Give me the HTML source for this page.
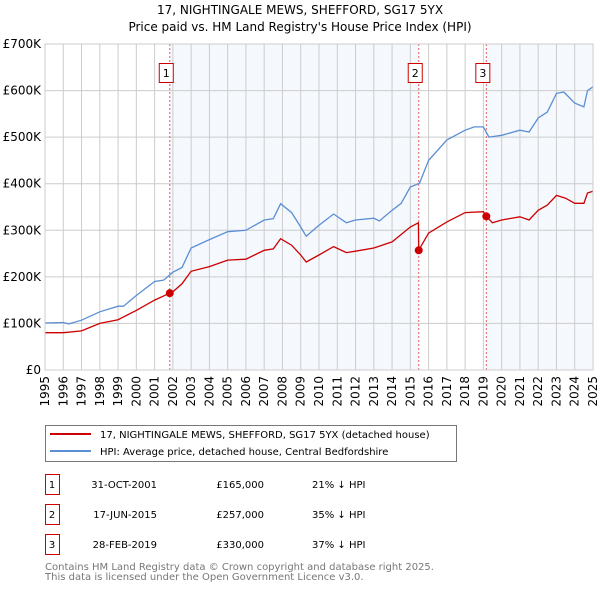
<!DOCTYPE html>
<html><head><meta charset="utf-8"><style>
body{margin:0;background:#fff;font-family:"DejaVu Sans","Liberation Sans",sans-serif;}
svg text{font-family:"DejaVu Sans","Liberation Sans",sans-serif;}
</style></head><body>
<svg id="c" width="600" height="590" viewBox="0 0 600 590" xmlns="http://www.w3.org/2000/svg">
<text x="300" y="14" text-anchor="middle" font-size="12">17, NIGHTINGALE MEWS, SHEFFORD, SG17 5YX</text>
<text x="300" y="31" text-anchor="middle" font-size="12">Price paid vs. HM Land Registry's House Price Index (HPI)</text>
<g id="plot"></g>
<rect x="45.5" y="425.5" width="411" height="36" fill="#fff" stroke="#777"/>
<line x1="50" y1="434" x2="91" y2="434" stroke="#cc0000" stroke-width="2"/>
<text x="100" y="438" font-size="10">17, NIGHTINGALE MEWS, SHEFFORD, SG17 5YX (detached house)</text>
<line x1="50" y1="451" x2="91" y2="451" stroke="#5b8fd4" stroke-width="2"/>
<text x="100" y="455" font-size="10">HPI: Average price, detached house, Central Bedfordshire</text>
<g id="table" font-size="10"></g>
<text x="45" y="570" font-size="10" fill="#777">Contains HM Land Registry data © Crown copyright and database right 2025.</text>
<text x="45" y="580" font-size="10" fill="#777">This data is licensed under the Open Government Licence v3.0.</text>
</svg>
<script>
const yearTicks=[1995,1996,1997,1998,1999,2000,2001,2002,2003,2004,2005,2006,2007,2008,2009,2010,2011,2012,2013,2014,2015,2016,2017,2018,2019,2020,2021,2022,2023,2024,2025];
const valueTicks=[0,100000,200000,300000,400000,500000,600000,700000];
const valueTickLabels=["£0","£100K","£200K","£300K","£400K","£500K","£600K","£700K"];
const hpiYears=[1995,1996,1996.3,1997,1998,1999,1999.3,2000,2001,2001.5,2002,2002.5,2003,2004,2005,2006,2007,2007.5,2007.9,2008.5,2009,2009.3,2010,2010.8,2011.5,2012,2013,2013.3,2014,2014.5,2015,2015.5,2016,2017,2018,2018.5,2019,2019.3,2020,2021,2021.5,2022,2022.5,2023,2023.4,2024,2024.5,2024.7,2025];
const hpiValues=[101000,102000,99000,107000,125000,137000,137000,160000,190000,193000,210000,220000,262000,280000,297000,300000,322000,325000,357000,338000,307000,287000,311000,335000,316000,322000,326000,320000,343000,358000,393000,401000,450000,494000,515000,522000,522000,500000,504000,515000,511000,541000,554000,594000,597000,573000,565000,600000,608000];
const propYears=[1995,1996,1997,1998,1999,2000,2001,2001.83,2002,2002.5,2003,2004,2005,2006,2007,2007.5,2007.9,2008.5,2009,2009.3,2010,2010.8,2011.5,2012,2013,2014,2015,2015.44,2015.46,2016,2017,2018,2019.0,2019.16,2019.5,2020,2021,2021.5,2022,2022.5,2023,2023.5,2024,2024.5,2024.7,2025];
const propValues=[80000,80000,84000,100000,108000,128000,150000,165000,168000,185000,212000,222000,236000,238000,257000,260000,282000,268000,247000,232000,247000,265000,252000,255000,262000,275000,307000,316000,257000,294000,318000,338000,340000,330000,316000,322000,329000,322000,343000,354000,375000,369000,358000,358000,380000,384000];
const saleLabels=["1","2","3"];
const saleYears=[2001.83,2015.46,2019.16];
const salePrices=[165000,257000,330000];
const saleDates=["31-OCT-2001","17-JUN-2015","28-FEB-2019"];
const salePriceText=["£165,000","£257,000","£330,000"];
const saleDiffText=["21% ↓ HPI","35% ↓ HPI","37% ↓ HPI"];

const NS="http://www.w3.org/2000/svg";
const L=45,R=593,T=44,B=370;
const xS=y=>L+(y-1995)/(2025-1995)*(R-L);
const yS=v=>B-v/700000*(B-T);
function mk(tag,at,par){const e=document.createElementNS(NS,tag);for(const k in at)e.setAttribute(k,at[k]);par.appendChild(e);return e;}
const g=document.getElementById('plot');
let s1=mk('rect',{x:xS(saleYears[0]),y:T,width:xS(saleYears[1])-xS(saleYears[0]),height:B-T,fill:'#eef3fc',opacity:0.6},g);


let s2=mk('rect',{x:xS(saleYears[2]),y:T,width:R-xS(saleYears[2]),height:B-T,fill:'#eef3fc',opacity:0.6},g);


yearTicks.forEach(y=>{
 const l=mk('line',{x1:xS(y),x2:xS(y),y1:T,y2:B,stroke:'#ccc','stroke-width':1},g);
 
 
 const t=mk('text',{x:0,y:0,'font-size':12,'text-anchor':'end',transform:`translate(${xS(y)+4},${B+6}) rotate(-90)`},g);
 t.textContent=y;
 
 
});
valueTicks.forEach((v,i)=>{
 const l=mk('line',{x1:L,x2:R,y1:yS(v),y2:yS(v),stroke:'#ccc','stroke-width':1},g);
 
 
 const t=mk('text',{x:L-4,y:yS(v)+4,'font-size':12,'text-anchor':'end'},g);
 t.textContent=valueTickLabels[i];
 
 
});
saleYears.forEach((y,i)=>{
 const l=mk('line',{x1:xS(y),x2:xS(y),y1:T,y2:B,stroke:'#e06060','stroke-width':1,'stroke-dasharray':'2,2'},g);
 
 
 const bx=mk('rect',{x:xS(y)-10.5,y:63.5,width:14,height:19,fill:'#fff',stroke:'#cc0000'},g);
 
 
 const t=mk('text',{x:xS(y)-3.5,y:77,'font-size':11,'text-anchor':'middle'},g);
 t.textContent=saleLabels[i];
 
 
});
function line(xs,vs,col,name){
 const p=mk('path',{d:xs.map((x,i)=>(i?'L':'M')+xS(x).toFixed(1)+','+yS(vs[i]).toFixed(1)).join(''),fill:'none',stroke:col,'stroke-width':1.3},g);
 
 
}
line(hpiYears,hpiValues,'#5b8fd4','hpi-line');
line(propYears,propValues,'#cc0000','property-line');
saleYears.forEach((y,i)=>{
 const c=mk('circle',{cx:xS(y),cy:yS(salePrices[i]),r:4,fill:'#cc0000'},g);
 
 
});
const fr=mk('rect',{x:L,y:T,width:R-L,height:B-T,fill:'none',stroke:'#ccc'},g);


const tb=document.getElementById('table');
saleLabels.forEach((s,i)=>{
 const y=483+i*30;
 const b=mk('rect',{x:45.5,y:y-8.5,width:14,height:20,fill:'#fff',stroke:'#cc0000'},tb);
 
 
 const cols=[[52,s,'middle'],[157,saleDates[i],'end'],[264,salePriceText[i],'end'],[312,saleDiffText[i],'start']];
 cols.forEach(([x,txt,a],j)=>{
  const t=mk('text',{x:x,y:y+5,'text-anchor':a},tb);
  t.textContent=txt;
  
  
 });
});
</script>
</body></html>
